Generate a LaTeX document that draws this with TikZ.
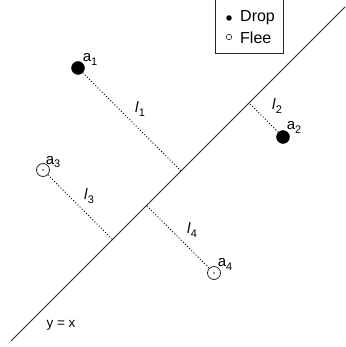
\documentclass[tikz,border=0pt]{standalone}
\usepackage{fontspec}
\setmainfont{Liberation Sans}
\usetikzlibrary{calc}
\begin{document}
\begin{tikzpicture}[x=1pt,y=-1pt,
  dropdot/.style={circle,fill=black,draw=black,inner sep=0pt,minimum size=13pt},
  fleedot/.style={circle,draw=black!85,line width=0.8pt,inner sep=0pt,minimum size=13pt},
  perp/.style={dash pattern=on 1pt off 2pt,line width=0.9pt,black},
  lbl/.style={inner sep=0pt,font=\fontsize{15}{15}\selectfont},
  mainline/.style={line width=0.8pt,black!85}]
\useasboundingbox (0,0) rectangle (345,347);
\newcommand{\sbs}[1]{\raisebox{-0.5ex}{\fontsize{11}{11}\selectfont #1}}
% legend
\node[draw=black!85,line width=0.8pt,minimum width=68pt,minimum height=56pt,inner sep=0pt] (leg) at (249,25) {};
\node[circle,fill=black,inner sep=0pt,minimum size=5.5pt] (ld) at (229,18) {};
\node[circle,draw=black!85,line width=0.6pt,inner sep=0pt,minimum size=5.5pt] (lf) at (229,37) {};
\node[anchor=west,inner sep=0pt,font=\fontsize{16}{16}\selectfont] (td) at (240,18) {Drop};
\node[anchor=west,inner sep=0pt,font=\fontsize{16}{16}\selectfont] (tf) at (240,38) {Flee};
% line y=x
\coordinate (L1) at (11,341);
\coordinate (L2) at (345,7);
\draw[mainline] (L1) -- (L2);
\node[inner sep=0pt,font=\fontsize{13.5}{13.5}\selectfont] (yx) at (61,325) {y = x};
% points
\node[dropdot] (a1) at (78,68) {};
\node[dropdot] (a2) at (283,137) {};
\node[fleedot] (a3) at (43,170) {};
\node[fleedot] (a4) at (214,273) {};
\fill[black!80] (a3) circle (0.8pt);
\fill[black!80] (a4) circle (0.8pt);
% feet
\coordinate (f1) at ($(L1)!(a1)!(L2)$);
\coordinate (f2) at ($(L1)!(a2)!(L2)$);
\coordinate (f3) at ($(L1)!(a3)!(L2)$);
\coordinate (f4) at ($(L1)!(a4)!(L2)$);
\draw[perp] (a1) -- (f1);
\draw[perp] (a2) -- (f2);
\draw[perp] (a3) -- (f3);
\draw[perp] (a4) -- (f4);
% labels
\node[lbl] (la1) at (90,59) {a\sbs{1}};
\node[lbl] (la2) at (294,127) {a\sbs{2}};
\node[lbl] (la3) at (53,162) {a\sbs{3}};
\node[lbl] (la4) at (225,264) {a\sbs{4}};
\node[lbl] (ll1) at (140,109) {\textit{l}\sbs{1}};
\node[lbl] (ll2) at (277,106) {\textit{l}\sbs{2}};
\node[lbl] (ll3) at (89,196) {\textit{l}\sbs{3}};
\node[lbl] (ll4) at (192,230) {\textit{l}\sbs{4}};
\end{tikzpicture}
\end{document}
